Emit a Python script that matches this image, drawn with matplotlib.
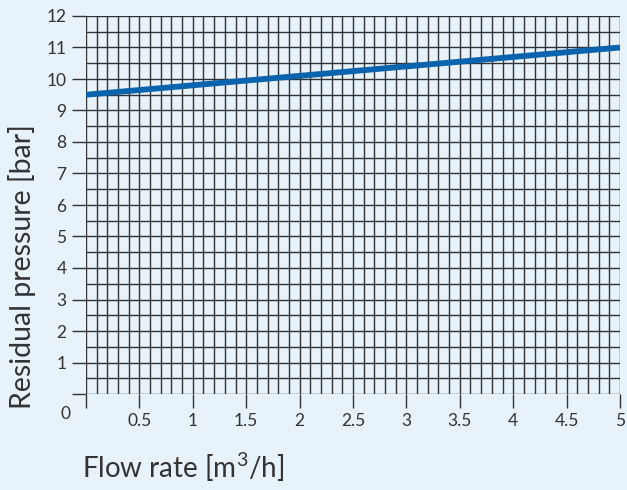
import matplotlib.pyplot as plt
import numpy as np

# data
flow = [0, 5]               # m3/h
pressure = [9.5, 11.0]      # bar
x_ticks = [0.5, 1, 1.5, 2, 2.5, 3, 3.5, 4, 4.5, 5]
x_labels = ['0.5', '1', '1.5', '2', '2.5', '3', '3.5', '4', '4.5', '5']
y_ticks = list(range(1, 13))

bg = '#e8f2fb'
grid_col = '#333333'
txt_col = '#333333'
plt.rcParams['font.family'] = ['Lato', 'DejaVu Sans']
plt.rcParams['mathtext.fontset'] = 'custom'
plt.rcParams['mathtext.rm'] = 'Lato'

fig = plt.figure(figsize=(6.27, 4.90), dpi=100, facecolor=bg)
ax = fig.add_axes([86/627, 1 - 394/490, (620 - 86)/627, (394 - 16)/490])
ax.set_facecolor(bg)

# fine grid: 0.1 in x, 0.5 in y
for xv in np.arange(0, 5.001, 0.1):
    ax.axvline(xv, color=grid_col, lw=1.0, zorder=1)
for yv in np.arange(0, 12.001, 0.5):
    ax.axhline(yv, color=grid_col, lw=1.0, zorder=1)

ax.plot(flow, pressure, color='#0a63ad', lw=4.2, solid_capstyle='butt', zorder=3)

ax.set_xlim(0, 5)
ax.set_ylim(0, 12)
for s in ax.spines.values():
    s.set_visible(False)

ax.set_xticks([0] + x_ticks)
ax.set_xticklabels([''] + x_labels)
ax.set_yticks([0] + y_ticks)
ax.set_yticklabels([''] + [str(v) for v in y_ticks])
ax.tick_params(axis='both', length=10, width=1.0, color=grid_col,
               labelsize=12.5, labelcolor=txt_col)
ax.tick_params(axis='x', pad=4)
ax.tick_params(axis='y', pad=4)

# corner zero
ax.annotate('0', xy=(0, 0), xytext=(-15, -14.5), textcoords='offset points',
            ha='center', va='center', fontsize=12.5, color=txt_col,
            annotation_clip=False)

fig.text(82/627, 1 - 478/490, r'Flow rate [m$^{\mathrm{3}}$/h]', ha='left', va='baseline',
         fontsize=20, color=txt_col)
fig.text(22/627, 1 - 267/490, 'Residual pressure [bar]', ha='center', va='center',
         rotation=90, fontsize=20.5, color=txt_col)

fig.savefig('out.png', dpi=100, facecolor=bg)
